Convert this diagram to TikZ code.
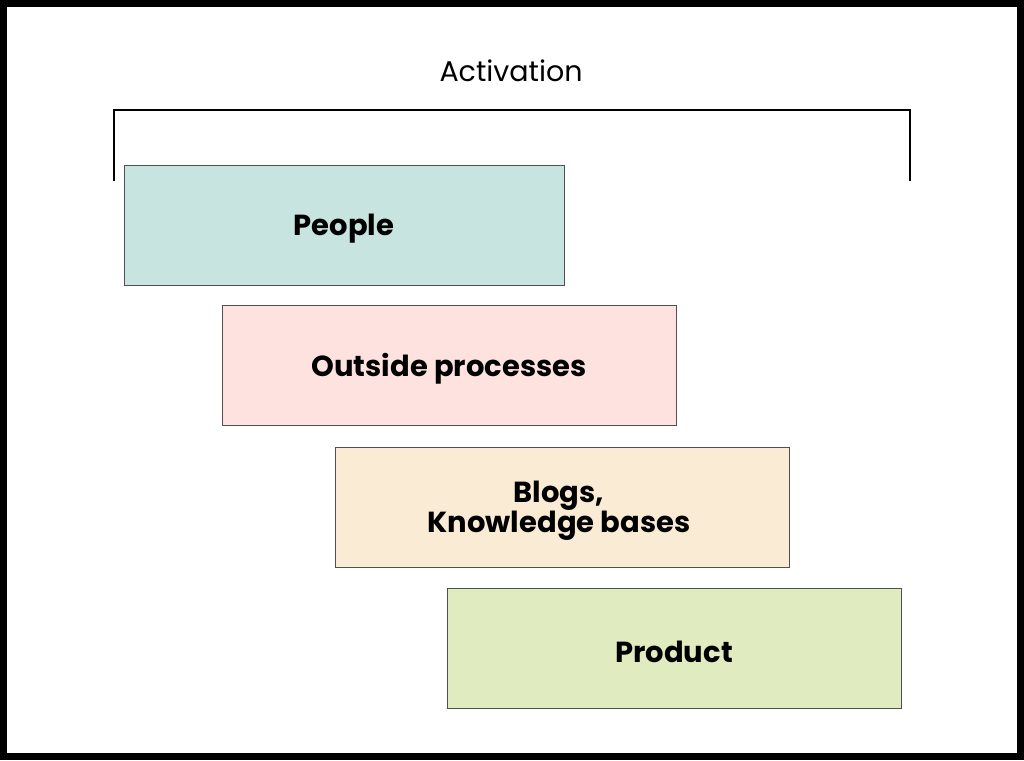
\documentclass[tikz,border=0pt]{standalone}
\usepackage{fontspec}
\setmainfont{Poppins}
\definecolor{cPeople}{HTML}{C8E4E0}
\definecolor{cOutside}{HTML}{FDE2DF}
\definecolor{cBlogs}{HTML}{FAEBD5}
\definecolor{cProduct}{HTML}{E0ECC0}
\definecolor{boxline}{HTML}{505050}
\begin{document}
\begin{tikzpicture}[x=1pt,y=-1pt,
  bar/.style={draw=boxline,line width=0.9pt,minimum width=440pt,minimum height=120pt,inner sep=0pt,anchor=north west,align=center},
  wide/.style={bar,minimum width=454pt},
  lbl/.style={font=\fontsize{29}{29}\selectfont\bfseries,align=center,inner sep=0pt},
  brace/.style={line width=2.4pt,line cap=butt}]
\useasboundingbox (0,0) rectangle (1024,760);
\fill[black] (0,0) rectangle (1024,760);
\fill[white] (7,7) rectangle (1017,753);
\node[bar,fill=cPeople] (people) at (124,165) {};
\node[wide,fill=cOutside] (outside) at (222,305) {};
\node[wide,fill=cBlogs] (blogs) at (335,447) {};
\node[wide,fill=cProduct] (product) at (447,588) {};
\node[lbl] (tpeople) at (344,229) {People};
\node[lbl] (toutside) at (449,369) {Outside processes};
\node[lbl] (tblogs) at (559,511) {Blogs,\\Knowledge bases};
\node[lbl] (tproduct) at (674,652) {Product};
\coordinate (bl) at (114,181);
\coordinate (tl) at (114,110);
\coordinate (tr) at (910,110);
\coordinate (br) at (910,181);
\draw[brace] (bl) -- (tl) -- (tr) -- (br);
\node[font=\fontsize{28.5}{30}\selectfont,inner sep=0pt] (act) at (511,71) {Activation};
\end{tikzpicture}
\end{document}
